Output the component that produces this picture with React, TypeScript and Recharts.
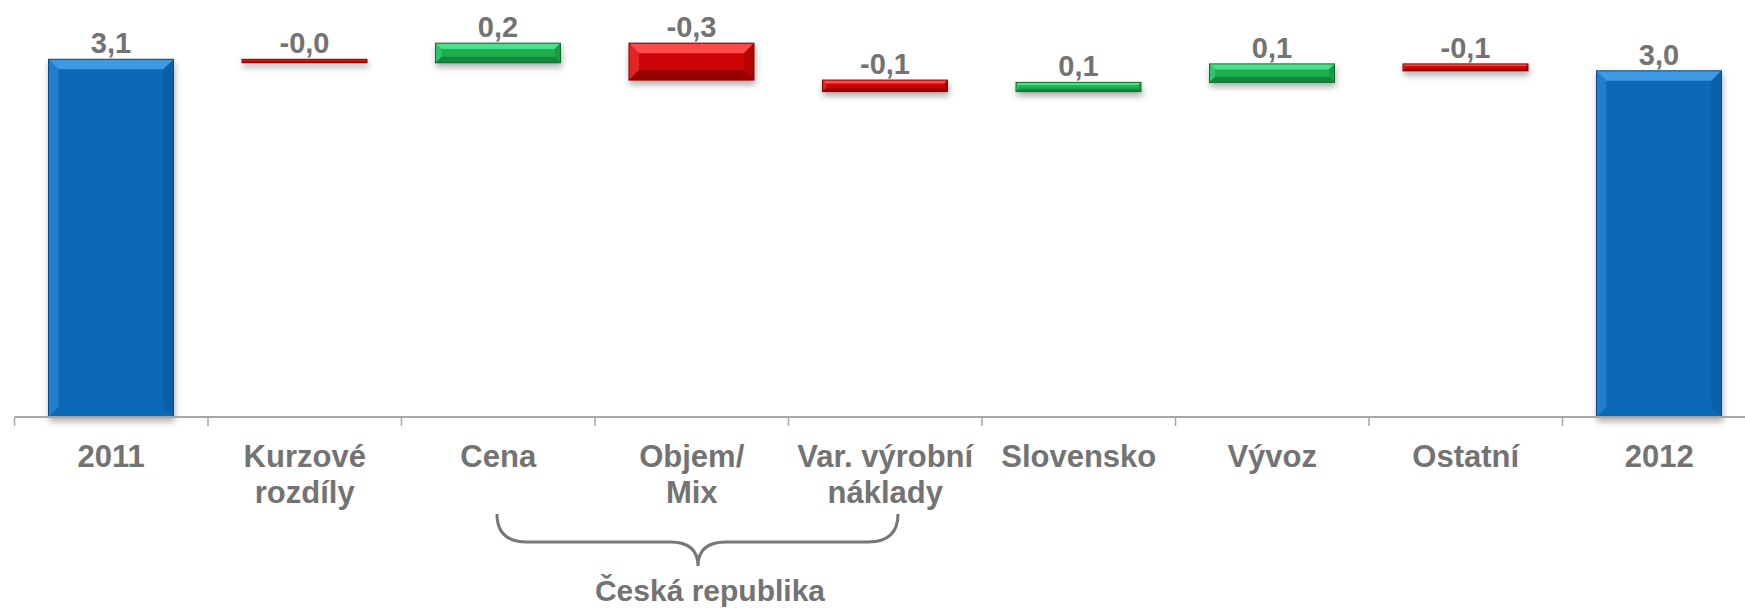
import React from 'react';
import { BarChart, Bar, XAxis, YAxis, LabelList } from 'recharts';

const categories = [
  '2011',
  'Kurzové\nrozdíly',
  'Cena',
  'Objem/\nMix',
  'Var. výrobní\nnáklady',
  'Slovensko',
  'Vývoz',
  'Ostatní',
  '2012',
];
const values = [3.1, -0.03, 0.17, -0.32, -0.1, 0.08, 0.16, -0.06, 3.0];
const isTotal = [true, false, false, false, false, false, false, false, true];
const valueLabels = ['3,1', '-0,0', '0,2', '-0,3', '-0,1', '0,1', '0,1', '-0,1', '3,0'];

const CHART_W = 1760;
const CHART_H = 608;
const MARGIN = { top: 1.6, right: 4, left: 14.5, bottom: 11 };
const CAT_W = (CHART_W - MARGIN.left - MARGIN.right) / categories.length;
const TEXT = '#737373';
const FONT = '"Liberation Sans", Arial, sans-serif';

const palette = {
  total: { base: '#0b69b7', light: '#3d9ae3', dark: '#0a5596', border: '#0a4c85' },
  up: { base: '#1fae4c', light: '#4ae08c', dark: '#15863c', border: '#0f6b2f' },
  down: { base: '#cc0606', light: '#ff4a4a', dark: '#990000', border: '#8a0000' },
};

// running totals -> [low, high] ranges for the floating bars
let running = 0;
const data = categories.map((name, i) => {
  let range: [number, number];
  let kind: 'total' | 'up' | 'down';
  if (isTotal[i]) {
    range = [0, values[i]];
    running = values[i];
    kind = 'total';
  } else {
    const next = running + values[i];
    range = [Math.min(running, next), Math.max(running, next)];
    running = next;
    kind = values[i] >= 0 ? 'up' : 'down';
  }
  return { name, range, kind, label: valueLabels[i] };
});

const BevelBar = (props: any) => {
  const { x, y, width: w, height: h, payload } = props;
  if (w == null || h == null) return null;
  const c = palette[payload.kind as keyof typeof palette];
  const b = Math.min(10, h * 0.3);
  return (
    <g style={{ filter: 'drop-shadow(1px 4px 3px rgba(0,0,0,0.32))' }}>
      <rect x={x} y={y} width={w} height={h} fill={c.base} />
      <polygon
        points={`${x},${y} ${x + w},${y} ${x + w - b},${y + b} ${x + b},${y + b}`}
        fill={c.light}
      />
      <polygon
        points={`${x},${y} ${x + b},${y + b} ${x + b},${y + h - b} ${x},${y + h}`}
        fill={c.light}
        opacity={0.45}
      />
      <polygon
        points={`${x + w},${y} ${x + w - b},${y + b} ${x + w - b},${y + h - b} ${x + w},${y + h}`}
        fill={c.dark}
        opacity={0.5}
      />
      {payload.kind !== 'total' && (
        <polygon
          points={`${x},${y + h} ${x + b},${y + h - b} ${x + w - b},${y + h - b} ${x + w},${y + h}`}
          fill={c.dark}
        />
      )}
      <rect x={x} y={y} width={w} height={h} fill="none" stroke={c.border} strokeWidth={1} />
    </g>
  );
};

const ValueLabel = (props: any) => {
  const { x, y, width, value } = props;
  return (
    <text
      x={x + width / 2}
      y={y - 6}
      textAnchor="middle"
      fill={TEXT}
      fontFamily={FONT}
      fontWeight="bold"
      fontSize={29}
    >
      {value}
    </text>
  );
};

const CategoryTick = (props: any) => {
  const { x, y, payload } = props;
  const lines = String(payload.value).split('\n');
  const left = x - CAT_W / 2;
  return (
    <g>
      <line x1={left} y1={y} x2={left} y2={y + 9} stroke="#a6a6a6" strokeWidth={1.5} />
      <text
        textAnchor="middle"
        fill={TEXT}
        fontFamily={FONT}
        fontWeight="bold"
        fontSize={31}
      >
        {lines.map((l, i) => (
          <tspan key={i} x={x} y={y + 50 + i * 36}>
            {l}
          </tspan>
        ))}
      </text>
    </g>
  );
};

export default function App() {
  return (
    <div
      style={{
        position: 'absolute',
        left: 0,
        top: 0,
        width: 1745,
        height: 608,
        overflow: 'hidden',
        background: '#fff',
      }}
    >
      <BarChart width={CHART_W} height={CHART_H} data={data} margin={MARGIN}>
        <XAxis
          dataKey="name"
          interval={0}
          height={180}
          tickSize={0}
          tickMargin={0}
          tickLine={false}
          axisLine={{ stroke: '#a6a6a6', strokeWidth: 2 }}
          tick={<CategoryTick />}
        />
        <YAxis hide domain={[0, 3.6]} />
        <Bar dataKey="range" barSize={125} shape={<BevelBar />} isAnimationActive={false}>
          <LabelList dataKey="label" content={<ValueLabel />} />
        </Bar>
      </BarChart>
      <svg
        width={1745}
        height={608}
        style={{ position: 'absolute', left: 0, top: 0, pointerEvents: 'none' }}
      >
        <path
          d="M497,514 Q497,542 527,542 L670,542 Q698,542 698,566 Q698,542 726,542 L868,542 Q898,542 898,514"
          fill="none"
          stroke="#777"
          strokeWidth={3}
        />
        <text
          x={710}
          y={601}
          textAnchor="middle"
          fill={TEXT}
          fontFamily={FONT}
          fontWeight="bold"
          fontSize={30}
        >
          Česká republika
        </text>
      </svg>
    </div>
  );
}
